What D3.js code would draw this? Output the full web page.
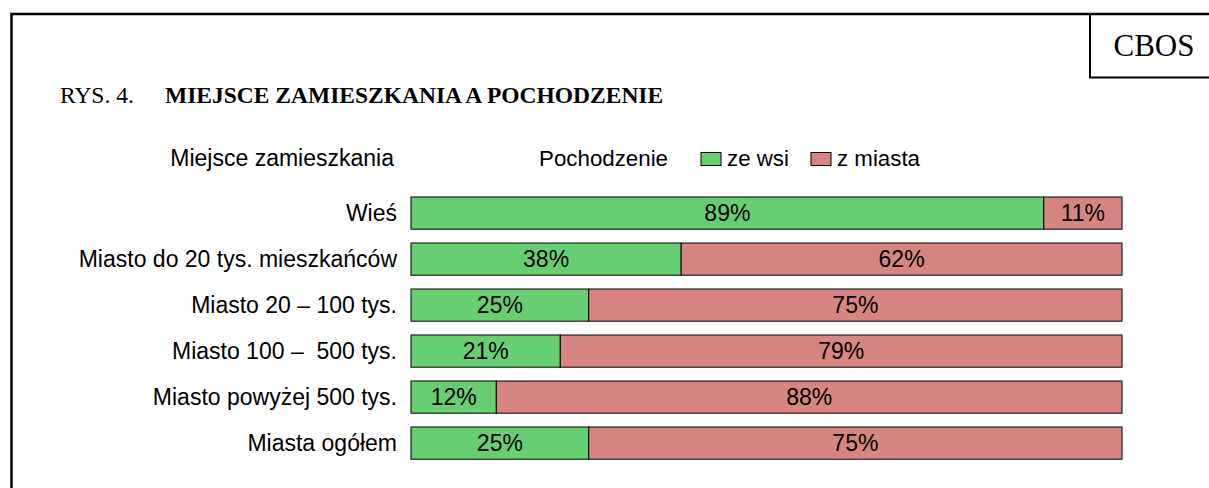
<!DOCTYPE html>
<html>
<head>
<meta charset="utf-8">
<script src="https://cdn.jsdelivr.net/npm/d3@7"></script>
<style>
  body { margin: 0; background: #fff; }
  svg text { font-family: "Liberation Sans", Arial, sans-serif; white-space: pre; }
  .serif { font-family: "Liberation Serif", "Times New Roman", serif; }
</style>
</head>
<body>
<div id="chart"></div>
<script>
// data
var categories = ["Wieś", "Miasto do 20 tys. mieszkańców", "Miasto 20 – 100 tys.",
                  "Miasto 100 –  500 tys.", "Miasto powyżej 500 tys.", "Miasta ogółem"];
var zeWsi = [89, 38, 25, 21, 12, 25];
var zMiasta = [11, 62, 75, 79, 88, 75];
var seriesNames = ["ze wsi", "z miasta"];
var colors = ["#67cf72", "#d68583"];

var W = 1209, H = 488;
var fs = 23;
var svg = d3.select("#chart").append("svg").attr("width", W).attr("height", H);

// frame
svg.append("path").attr("d", "M11.5,490 V14 H1211")
  .attr("fill", "none").attr("stroke", "#000").attr("stroke-width", 2.5);
svg.append("path").attr("d", "M1090,14 V77.5 H1211")
  .attr("fill", "none").attr("stroke", "#000").attr("stroke-width", 2);
svg.append("text").attr("class", "serif").attr("x", 1154).attr("y", 56)
  .attr("text-anchor", "middle").attr("font-size", 31).text("CBOS");

// title
svg.append("text").attr("class", "serif").attr("x", 60).attr("y", 103)
  .attr("font-size", 23.5).text("RYS. 4.");
svg.append("text").attr("class", "serif").attr("x", 165).attr("y", 103)
  .attr("font-size", 23.5).attr("font-weight", "bold").text("MIEJSCE ZAMIESZKANIA A POCHODZENIE");

var x = d3.scaleLinear().domain([0, 100]).range([411, 1122]);
var y = d3.scaleBand().domain(categories).range([197, 197 + 46 * 5.7]).paddingInner(0.3).paddingOuter(0);

// header row / legend
svg.append("text").attr("x", 394).attr("y", 166).attr("text-anchor", "end")
  .attr("font-size", fs).text("Miejsce zamieszkania");
svg.append("text").attr("x", 668).attr("y", 166).attr("text-anchor", "end")
  .attr("font-size", 22.3).text("Pochodzenie");
var legX = [701, 811];
seriesNames.forEach(function (s, i) {
  svg.append("rect").attr("x", legX[i]).attr("y", 152.5).attr("width", 20).attr("height", 13)
    .attr("fill", colors[i]).attr("stroke", "#000").attr("stroke-width", 1);
  svg.append("text").attr("x", legX[i] + 26).attr("y", 166)
    .attr("font-size", 22.3).text(s);
});

var rows = categories.map(function (c, i) {
  return { cat: c, segs: [{ v0: 0, v1: zeWsi[i], k: 0 }, { v0: zeWsi[i], v1: zeWsi[i] + zMiasta[i], k: 1 }] };
});

var g = svg.selectAll("g.row").data(rows).enter().append("g").attr("class", "row");

g.append("text").attr("x", 397)
  .attr("y", function (d) { return y(d.cat) + y.bandwidth() / 2 + 8; })
  .attr("text-anchor", "end").attr("font-size", fs)
  .text(function (d) { return d.cat; });

g.selectAll("rect").data(function (d) { return d.segs.map(function (s) { return Object.assign({ cat: d.cat }, s); }); })
  .enter().append("rect")
  .attr("x", function (d) { return x(d.v0); })
  .attr("y", function (d) { return y(d.cat); })
  .attr("width", function (d) { return x(d.v1) - x(d.v0); })
  .attr("height", y.bandwidth())
  .attr("fill", function (d) { return colors[d.k]; })
  .attr("stroke", "#000").attr("stroke-width", 1);

g.selectAll("text.val").data(function (d) { return d.segs.map(function (s) { return Object.assign({ cat: d.cat }, s); }); })
  .enter().append("text").attr("class", "val")
  .attr("x", function (d) { return (x(d.v0) + x(d.v1)) / 2; })
  .attr("y", function (d) { return y(d.cat) + y.bandwidth() / 2 + 8; })
  .attr("text-anchor", "middle").attr("font-size", fs)
  .text(function (d) { return (d.v1 - d.v0) + "%"; });
</script>
</body>
</html>
